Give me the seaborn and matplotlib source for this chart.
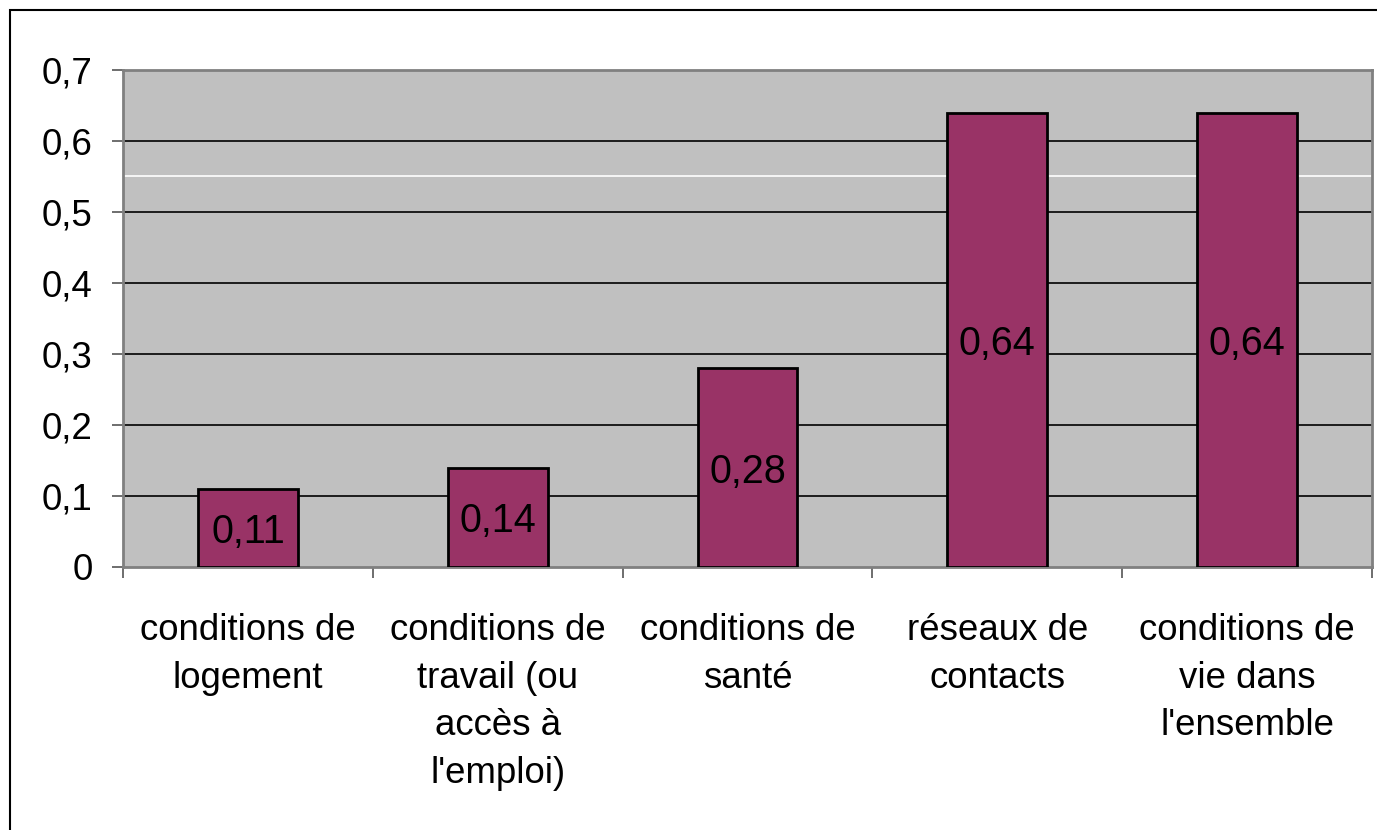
import matplotlib
matplotlib.use("Agg")
import matplotlib.pyplot as plt
import matplotlib.patches as mpatches
from matplotlib.transforms import offset_copy
import pandas as pd
import seaborn as sns

categories = [
    "conditions de\nlogement",
    "conditions de\ntravail (ou\naccès à\nl'emploi)",
    "conditions de\nsanté",
    "réseaux de\ncontacts",
    "conditions de\nvie dans\nl'ensemble",
]
values = [0.11, 0.14, 0.28, 0.64, 0.64]
yticks = [0, 0.1, 0.2, 0.3, 0.4, 0.5, 0.6, 0.7]

sns.set_theme(style="white")
plt.rcParams["font.family"] = ["Liberation Sans", "DejaVu Sans"]
plt.rcParams["text.color"] = "black"
plt.rcParams["xtick.color"] = "black"
plt.rcParams["ytick.color"] = "black"

df = pd.DataFrame({"cat": categories, "val": values})

fig = plt.figure(figsize=(13.77, 8.30), dpi=100)
ax = fig.add_axes([123 / 1377, 1 - 567 / 830, 1249 / 1377, 497 / 830])
ax.set_facecolor("#C0C0C0")

for y in yticks[1:-1]:
    ax.axhline(y, color="black", lw=1.2, zorder=1)
ax.axhline(0.55, color="white", lw=1.2, zorder=1)

sns.barplot(data=df, x="cat", y="val", color="#993366", edgecolor="black",
            linewidth=2, width=0.4, saturation=1, ax=ax, zorder=3)

# value labels, centred in each bar (nudged down a few pixels)
lbl_tr = offset_copy(ax.transData, fig=fig, y=-3, units="points")
for i, v in enumerate(values):
    ax.text(i, v / 2, f"{v:.2f}".replace(".", ","), ha="center", va="center",
            fontsize=28.5, color="black", zorder=4, transform=lbl_tr)

ax.set_xlim(-0.5, len(categories) - 0.5)
ax.set_ylim(0, 0.7)
ax.set_yticks(yticks)
ax.set_yticklabels([f"{t:g}".replace(".", ",") for t in yticks], fontsize=26.5)
ax.set_xticks([i - 0.5 for i in range(len(categories) + 1)], minor=False)
ax.set_xticklabels([])
ax.set_xticks(range(len(categories)), minor=True)
ax.set_xticklabels(categories, minor=True, fontsize=26.4, linespacing=1.47)
ax.tick_params(axis="x", which="minor", length=0, pad=33)
ax.tick_params(axis="x", which="major", length=8, width=1.2, color="#555555",
               direction="out", bottom=True)
ax.tick_params(axis="y", length=8, width=1.2, color="#555555", direction="out",
               left=True, pad=14, labelcolor="black")
ax.set_xlabel("")
ax.set_ylabel("")
for side in ["top", "right", "left", "bottom"]:
    ax.spines[side].set_color("#808080")
    ax.spines[side].set_linewidth(2)
    ax.spines[side].set_visible(True)

fig.patches.append(mpatches.Rectangle((10 / 1377, -0.1), 1.2, 1.1 - 10 / 830,
                                      transform=fig.transFigure, fill=False,
                                      edgecolor="black", lw=1.5))

fig.savefig("out.png", dpi=100)
